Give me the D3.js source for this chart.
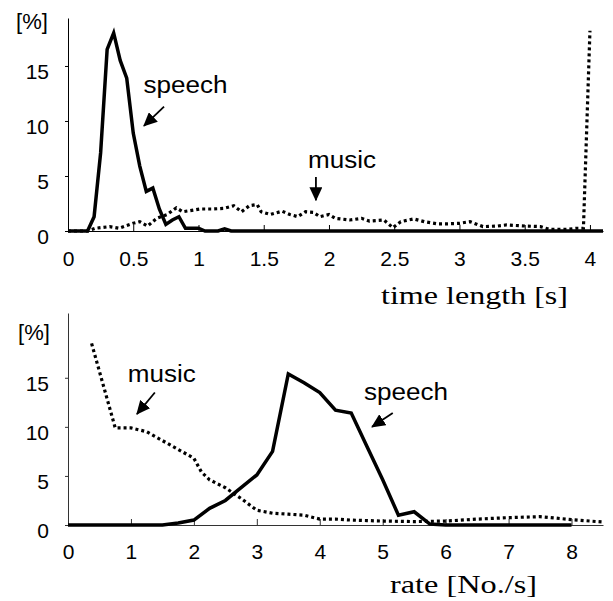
<!DOCTYPE html>
<html>
<head>
<meta charset="utf-8">
<script src="https://cdn.jsdelivr.net/npm/d3@7"></script>
<style>
  body { margin: 0; background: #fff; }
  .tick text { font-family: "Liberation Sans", Arial, sans-serif; font-size: 21px; fill: #000; }
  .lab { font-family: "Liberation Sans", Arial, sans-serif; font-size: 23px; }
  .title { font-family: "Liberation Serif", "Times New Roman", serif; font-size: 26px; }
</style>
</head>
<body>
<div id="chart"></div>
<script>
// Datos: longitud temporal [s]
const timeSpeechX = [0, 0.15, 0.2, 0.25, 0.3, 0.35, 0.4, 0.45, 0.5, 0.55, 0.6, 0.65, 0.7, 0.75, 0.8, 0.85, 0.9, 0.95, 1.0, 1.05, 1.15, 1.2, 1.25, 4.1];
const timeSpeechY = [0, 0, 1.3, 7.1, 16.5, 18.0, 15.5, 13.9, 8.9, 5.9, 3.6, 3.9, 2.0, 0.6, 1.0, 1.3, 0.25, 0.25, 0.25, 0, 0, 0.2, 0, 0];

const timeMusicX = [0, 0.15, 0.21, 0.32, 0.39, 0.5, 0.55, 0.61, 0.68, 0.76, 0.83, 0.88, 0.96, 1.01, 1.11, 1.19, 1.27, 1.33, 1.39, 1.45, 1.48, 1.55, 1.64, 1.7, 1.76, 1.82, 1.88, 1.93, 2.0, 2.05, 2.16, 2.25, 2.31, 2.42, 2.49, 2.55, 2.65, 2.73, 2.83, 2.9, 3.0, 3.08, 3.18, 3.29, 3.36, 3.51, 3.62, 3.69, 3.82, 3.9, 3.95, 4.0];
const timeMusicY = [0, 0, 0.25, 0.4, 0.25, 0.7, 0.85, 0.45, 1.15, 1.5, 2.1, 1.75, 1.9, 2.0, 2.0, 2.05, 2.3, 1.75, 2.3, 2.4, 1.75, 1.5, 1.8, 1.5, 1.3, 1.75, 1.7, 1.3, 1.5, 1.15, 1.0, 1.15, 0.9, 1.0, 0.3, 0.85, 1.1, 0.85, 0.65, 0.65, 0.7, 0.85, 0.4, 0.45, 0.55, 0.45, 0.4, 0.15, 0.15, 0.25, 0.25, 18.2];

// Datos: tasa [No./s]
const rateSpeechX = [0, 0.25, 0.5, 0.75, 1.0, 1.25, 1.5, 1.75, 2.0, 2.25, 2.5, 2.75, 3.0, 3.25, 3.5, 3.75, 4.0, 4.25, 4.5, 4.75, 5.0, 5.25, 5.5, 5.75, 6.0, 6.5, 7.0, 7.5, 8.0];
const rateSpeechY = [0, 0, 0, 0, 0, 0, 0, 0.2, 0.5, 1.7, 2.5, 3.8, 5.1, 7.5, 15.4, 14.5, 13.5, 11.7, 11.4, 8.0, 4.6, 1.0, 1.35, 0.1, 0, 0, 0, 0, 0];

const rateMusicX = [0.375, 0.75, 1.0, 1.25, 1.5, 1.75, 2.0, 2.12, 2.25, 2.5, 2.75, 3.0, 3.25, 3.5, 3.75, 4.0, 4.25, 4.5, 4.75, 5.0, 5.5, 6.0, 6.5, 7.0, 7.5, 8.0, 8.5];
const rateMusicY = [18.5, 9.9, 9.9, 9.5, 8.6, 7.7, 6.8, 5.4, 4.6, 3.8, 2.7, 1.5, 1.2, 1.1, 1.0, 0.6, 0.6, 0.5, 0.45, 0.4, 0.35, 0.4, 0.6, 0.75, 0.85, 0.55, 0.3];

const timeTicks = [0, 0.5, 1, 1.5, 2, 2.5, 3, 3.5, 4];
const rateTicks = [0, 1, 2, 3, 4, 5, 6, 7, 8];
const pctTicks = [0, 5, 10, 15];

const width = 613, height = 601;

const svg = d3.select("#chart").append("svg")
    .attr("width", width)
    .attr("height", height);

// Punta de flecha
svg.append("defs").append("marker")
    .attr("id", "arrow")
    .attr("viewBox", "0 0 14 13")
    .attr("refX", 13).attr("refY", 6.5)
    .attr("markerWidth", 14).attr("markerHeight", 13)
    .attr("markerUnits", "userSpaceOnUse")
    .attr("orient", "auto")
    .append("path")
    .attr("d", "M0,0 L14,6.5 L0,13 Z")
    .attr("fill", "#000");

function panel(cfg) {
    const x = d3.scaleLinear().domain(cfg.xDomain).range([68, 603]);
    const y = d3.scaleLinear().domain(cfg.yDomain).range(cfg.yRange);
    const g = svg.append("g");

    // eje y
    const ya = g.append("g")
        .attr("transform", "translate(68,0)")
        .call(d3.axisLeft(y).tickValues(pctTicks).tickSizeInner(3).tickSizeOuter(0).tickPadding(16));
    ya.select(".domain").attr("stroke", cfg.axisColor);
    ya.selectAll(".tick line").attr("stroke", cfg.axisColor);
    ya.selectAll(".tick text").attr("dy", "0.32em").attr("y", 6);

    // eje x
    const xa = g.append("g")
        .attr("transform", `translate(0,${y(0)})`)
        .call(d3.axisBottom(x).tickValues(cfg.xTicks).tickFormat(d => String(d))
            .tickSizeInner(-6).tickSizeOuter(0).tickPadding(cfg.xPad));
    xa.select(".domain").attr("stroke", cfg.axisColor);
    xa.selectAll(".tick line").attr("stroke", cfg.axisColor);

    // etiqueta [%]
    g.append("text").attr("class", "lab")
        .attr("x", cfg.pctX).attr("y", cfg.pctY)
        .attr("text-anchor", "middle").attr("dy", "0.35em")
        .style("font-size", "22px")
        .text("[%]");

    const line = d3.line().x(d => x(d[0])).y(d => y(d[1]));

    g.append("path")
        .datum(d3.zip(cfg.musicX, cfg.musicY))
        .attr("d", line)
        .attr("fill", "none")
        .attr("stroke", "#000")
        .attr("stroke-width", 3.2)
        .attr("stroke-dasharray", "3,3");

    g.append("path")
        .datum(d3.zip(cfg.speechX, cfg.speechY))
        .attr("d", line)
        .attr("fill", "none")
        .attr("stroke", "#000")
        .attr("stroke-width", 3.5)
        .attr("stroke-linejoin", "miter");

    // anotaciones
    cfg.notes.forEach(n => {
        g.append("text").attr("class", "lab")
            .attr("x", x(n.tx) - n.w / 2).attr("y", y(n.ty))
            .attr("dy", "0.35em")
            .attr("textLength", n.w)
            .attr("lengthAdjust", "spacingAndGlyphs")
            .text(n.text);
        g.append("line")
            .attr("x1", x(n.a[0])).attr("y1", y(n.a[1]))
            .attr("x2", x(n.b[0])).attr("y2", y(n.b[1]))
            .attr("stroke", "#000").attr("stroke-width", 1.8)
            .attr("marker-end", "url(#arrow)");
    });

    g.append("text").attr("class", "title")
        .attr("x", cfg.titleX).attr("y", cfg.titleY)
        .attr("textLength", cfg.titleW)
        .attr("lengthAdjust", "spacingAndGlyphs")
        .text(cfg.title);
}

panel({
    xDomain: [0, 4.1], yDomain: [0, 19.36], yRange: [231, 18],
    xTicks: timeTicks, xPad: 20, axisColor: "#000", pctX: 32, pctY: 21,
    speechX: timeSpeechX, speechY: timeSpeechY,
    musicX: timeMusicX, musicY: timeMusicY,
    notes: [
        { text: "speech", w: 84, tx: 0.9, ty: 13.3, a: [0.736, 11.3], b: [0.582, 9.55] },
        { text: "music", w: 68, tx: 2.1, ty: 6.45, a: [1.9, 4.9], b: [1.9, 2.8] }
    ],
    title: "time length [s]", titleX: 381, titleY: 304, titleW: 187
});

panel({
    xDomain: [0, 8.5], yDomain: [0, 21.6], yRange: [525, 313],
    xTicks: rateTicks, xPad: 19, axisColor: "#333", pctX: 34, pctY: 332,
    speechX: rateSpeechX, speechY: rateSpeechY,
    musicX: rateMusicX, musicY: rateMusicY,
    notes: [
        { text: "music", w: 68, tx: 1.49, ty: 15.4, a: [1.38, 13.5], b: [1.095, 11.3] },
        { text: "speech", w: 84, tx: 5.37, ty: 13.6, a: [5.16, 11.4], b: [4.83, 10.0] }
    ],
    title: "rate [No./s]", titleX: 390, titleY: 593, titleW: 147
});
</script>
</body>
</html>
